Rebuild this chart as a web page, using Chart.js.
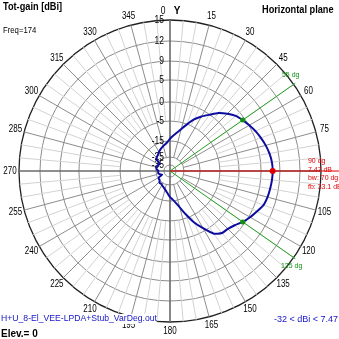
<!DOCTYPE html>
<html><head><meta charset="utf-8">
<script src="https://cdn.jsdelivr.net/npm/chart.js@4/dist/chart.umd.min.js"></script>
<style>
html,body{margin:0;padding:0;background:#fff;}
#wrap{position:relative;width:339px;height:339px;overflow:hidden;background:#fff;}
canvas{position:absolute;left:0;top:0;}
.t{position:absolute;white-space:nowrap;font-family:'Liberation Sans',Arial,sans-serif;transform-origin:0 0;line-height:1;}
.b{font-weight:bold;}
</style></head>
<body><div id="wrap"><canvas id="c" width="339" height="339"></canvas>
<div class="t b" style="left:3px;top:2px;font-size:10px;transform:scaleX(0.92)">Tot-gain [dBi]</div>
<div class="t" style="left:3px;top:26px;font-size:9px;transform:scaleX(0.86)">Freq=174</div>
<div class="t b" style="left:262px;top:5px;font-size:10px;transform:scaleX(0.92)">Horizontal plane</div>
<div class="t" style="left:1px;top:314px;font-size:9px;color:#1414c8;background:#fff;padding-bottom:1px;transform:scaleX(0.96)">H+U_8-El_VEE-LPDA+Stub_VarDeg.out</div>
<div class="t b" style="left:1px;top:329px;font-size:10px;">Elev.= 0</div>
<div class="t" style="left:274px;top:315px;font-size:9px;color:#1414c8;">-32 &lt; dBi &lt; 7.47</div>
<div class="t" style="left:308px;top:157px;font-size:8px;color:#e00000;transform:scaleX(0.87)">90 dg</div>
<div class="t" style="left:308px;top:166px;font-size:8px;color:#e00000;transform:scaleX(0.87)">7.47 dB</div>
<div class="t" style="left:308px;top:174px;font-size:8px;color:#e00000;transform:scaleX(0.87)">bw: 70 dg</div>
<div class="t" style="left:308px;top:183px;font-size:8px;color:#e00000;transform:scaleX(0.87)">fb: 33.1 dB</div>
<div class="t" style="left:282px;top:71px;font-size:8px;color:#109010;transform:scaleX(0.87)">55 dg</div>
<div class="t" style="left:281px;top:262px;font-size:8px;color:#109010;transform:scaleX(0.87)">125 dg</div>
</div>
<script>
// ---- data ----
const ANGLES = [0,5,10,15,20,25,30,35,40,45,50,55,60,65,70,75,80,85,90,95,100,105,110,115,120,125,130,135,140,145,150,155,160,165,170,175,180,185,190,195,200,205,210,215,220,225,230,235,240,245,250,255,260,265,270,275,280,285,290,295,300,305,310,315,320,325,330,335,340,345,350,355];
const GAIN_DBI = [-13.9,-12.3,-10.6,-8.3,-5.2,-3.2,-1.6,-0.1,1.5,2.7,3.8,4.47,5.1,5.7,6.2,6.7,7.1,7.38,7.47,7.4,7.25,7.1,6.8,6.0,5.3,4.47,3.5,2.9,2.7,1.7,-0.8,-3.3,-7.0,-11.2,-14.0,-16.0,-17.5,-19.3,-20.8,-21.8,-22.6,-23.2,-23.6,-24.2,-23.8,-24.5,-25.5,-25.5,-26.5,-31.5,-30.0,-28.5,-27.5,-27.8,-28.0,-26.5,-25.2,-25.0,-25.0,-26.0,-26.5,-27.0,-23.0,-22.0,-21.5,-21.0,-20.0,-19.2,-18.4,-17.6,-16.8,-15.6];
const MAX_DIR = [90];          // direction of maximum (deg)
const MAX_GAIN = [7.47];       // dBi
const HALF_POWER_DIRS = [55, 125];
const HALF_POWER_GAIN = [4.47, 4.47];
const TICK_DB = [-35,-25,-15,-5,0,5,9,12,15];
const SCALE_MIN = -45, SCALE_MAX = 15;

// ---- scale: log-like radial scale (dB -> fraction of radius) ----
const MAP_DB   = [-45,-35,-25,-15,-5,0,5,9,12,15];
const MAP_FRAC = [0,0.040,0.093,0.199,0.331,0.457,0.603,0.728,0.861,1];
function frac(v){
  if (v <= MAP_DB[0]) return 0;
  for (let i=1;i<MAP_DB.length;i++){
    if (v <= MAP_DB[i]) {
      const t=(v-MAP_DB[i-1])/(MAP_DB[i]-MAP_DB[i-1]);
      return MAP_FRAC[i-1]+t*(MAP_FRAC[i]-MAP_FRAC[i-1]);
    }
  }
  return 1;
}
class ArrlScale extends Chart.RadialLinearScale {
  getDistanceFromCenterForValue(value){
    if (value === null || value === undefined || isNaN(value)) return NaN;
    return this.drawingArea * frac(value);
  }
}
ArrlScale.id = 'arrlRadial';
ArrlScale.defaults = Chart.RadialLinearScale.defaults;
Chart.register(ArrlScale);

function sparse(dirs, vals){
  return ANGLES.map(a => { const k = dirs.indexOf(a); return k >= 0 ? vals[k] : null; });
}

const FONT = '"Liberation Sans", Arial, sans-serif';
function txt(ctx, t, x, y, sx){
  ctx.save(); ctx.translate(x, y); ctx.scale(sx, 1); ctx.fillText(t, 0, 0); ctx.restore();
}

const overlay = {
  id: 'overlay',
  beforeDatasetsDraw(chart){
    const s = chart.scales.r, ctx = chart.ctx, R = s.drawingArea;
    ctx.save();
    // direction lines
    const ray = (deg, len, color) => {
      const p = s.getPointPosition(ANGLES.indexOf(deg), len);
      ctx.strokeStyle = color; ctx.lineWidth = 1;
      ctx.beginPath(); ctx.moveTo(s.xCenter, s.yCenter); ctx.lineTo(p.x, p.y); ctx.stroke();
    };
    HALF_POWER_DIRS.forEach(d => ray(d, R + 2, '#22a022'));
    MAX_DIR.forEach(d => ray(d, R + 18, '#e00000'));
    // angle labels
    ctx.fillStyle = '#000';
    ctx.font = '10px ' + FONT;
    ctx.textAlign = 'center'; ctx.textBaseline = 'middle';
    ANGLES.forEach((a, i) => {
      if (a % 15 !== 0 || a === 90) return;
      const p = s.getPointPosition(i, R + 9);
      if (a === 0) {
        txt(ctx, '0', p.x - 7, p.y, 0.85);
        ctx.font = 'bold 10px ' + FONT;
        txt(ctx, 'Y', p.x + 7, p.y, 1);
        ctx.font = '10px ' + FONT;
      } else {
        txt(ctx, String(a), p.x, p.y, 0.8);
      }
    });
    // radial (dB) labels
    ctx.textAlign = 'right';
    TICK_DB.forEach(v => {
      const d = s.getDistanceFromCenterForValue(v);
      txt(ctx, String(v), s.xCenter - 6, s.yCenter - d, 0.85);
    });
    ctx.restore();
  }
};

new Chart(document.getElementById('c'), {
  type: 'radar',
  data: {
    labels: ANGLES,
    datasets: [
      { data: sparse(MAX_DIR, MAX_GAIN), showLine: false, pointRadius: 3, pointBackgroundColor: '#e00000', pointBorderWidth: 0, fill: false, order: 0 },
      { data: sparse(HALF_POWER_DIRS, HALF_POWER_GAIN), showLine: false, pointRadius: 2.5, pointBackgroundColor: '#109010', pointBorderWidth: 0, fill: false, order: 0 },
      { data: GAIN_DBI, borderColor: '#0c0ca0', borderWidth: 2, pointRadius: 0, fill: false, tension: 0.2, order: 1 }
    ]
  },
  options: {
    responsive: false,
    animation: false,
    events: [],
    layout: { padding: { left: 19, right: 18, top: 20, bottom: 17 } },
    plugins: { legend: { display: false }, tooltip: { enabled: false } },
    scales: {
      r: {
        type: 'arrlRadial',
        min: SCALE_MIN, max: SCALE_MAX,
        startAngle: 0,
        afterBuildTicks: sc => { sc.ticks = TICK_DB.map(v => ({ value: v })); },
        ticks: { display: false },
        pointLabels: { display: false },
        grid: {
          circular: true,
          color: c => c.index === TICK_DB.length - 1 ? '#202020' : '#8c8c8c',
          lineWidth: c => c.index === TICK_DB.length - 1 ? 1.3 : 1
        },
        angleLines: {
          color: c => { const a = ANGLES[c.index]; return a % 90 === 0 ? '#6a6a6a' : (a % 15 === 0 ? '#8c8c8c' : '#d2d2d2'); },
          lineWidth: c => ANGLES[c.index] % 90 === 0 ? 1.6 : 1,
          borderDash: c => {
            const a = ANGLES[c.index];
            if (a % 90 === 0) return [];
            const r0 = c.scale.getDistanceFromCenterForValue(a % 15 === 0 ? -25 : -5);
            return [0, r0, 1000];
          }
        }
      }
    }
  },
  plugins: [overlay]
});
</script>
</body></html>
